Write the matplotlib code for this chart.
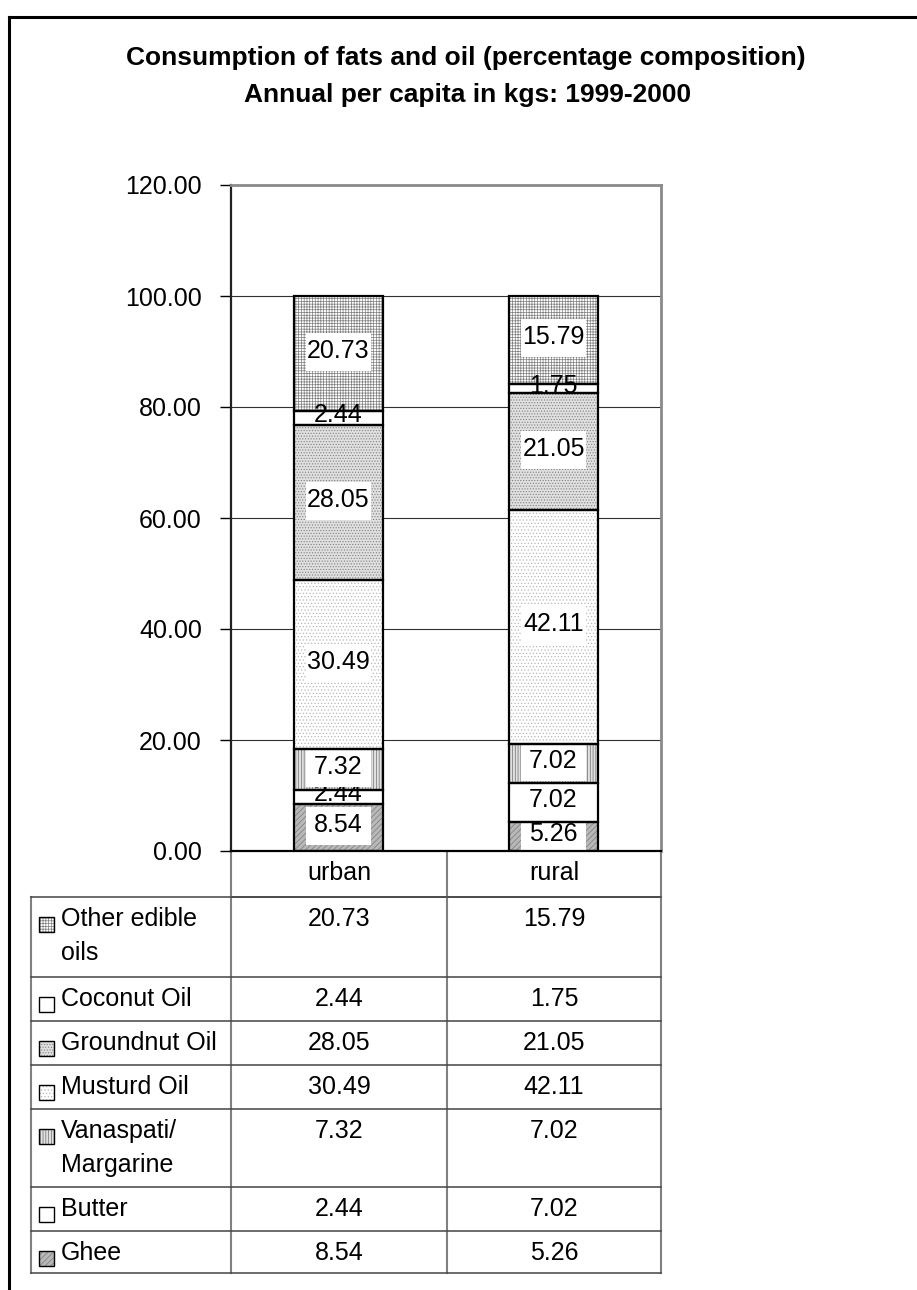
import numpy as np
import matplotlib.pyplot as plt
from matplotlib.patches import Rectangle

plt.rcParams['font.family'] = ['Liberation Sans', 'DejaVu Sans']
plt.rcParams['hatch.linewidth'] = 0.5

# stacked shares, bottom segment first
areas = ['urban', 'rural']
items = ['Ghee', 'Butter', 'Vanaspati/\nMargarine', 'Musturd Oil',
         'Groundnut Oil', 'Coconut Oil', 'Other edible\noils']
ghee = [8.54, 5.26]
butter = [2.44, 7.02]
vanaspati = [7.32, 7.02]
musturd = [30.49, 42.11]
groundnut = [28.05, 21.05]
coconut = [2.44, 1.75]
other = [20.73, 15.79]
series = [ghee, butter, vanaspati, musturd, groundnut, coconut, other]
yticks = [0, 20, 40, 60, 80, 100, 120]

# face colour, hatch, hatch colour for each segment
styles = [('#b8b8b8', '//////', '#7a7a7a'),
          ('white', None, 'white'),
          ('#e0e0e0', '||||||', '#6e6e6e'),
          ('white', '.....', '#b8b8b8'),
          ('#e0e0e0', '......', '#808080'),
          ('white', None, 'white'),
          ('white', '++++++', '#7e7e7e')]

FS = 18
W, H = 917, 1290
fig = plt.figure(figsize=(W / 100, H / 100), dpi=100)
ax = fig.add_axes([231 / W, 1 - 851 / H, 430 / W, 666 / H], zorder=2)

x = np.arange(len(areas))
bw = 0.41
box_w, box_h = 0.30, 6.8   # label box size in data units
bottom = np.zeros(len(areas))
for vals, (fc, h, hc) in zip(series, styles):
    vals = np.array(vals)
    ax.bar(x, vals, bottom=bottom, width=bw, color=fc, edgecolor=hc,
           linewidth=0, hatch=h, zorder=2)
    ax.bar(x, vals, bottom=bottom, width=bw, fill=False,
           edgecolor='black', linewidth=1.6, zorder=4)
    for xi, v, b in zip(x, vals, bottom):
        yc = b + v / 2
        # thin segments get bare text, the rest a white label box
        if v > 5:
            ax.add_patch(Rectangle((xi - box_w / 2, yc - box_h / 2 + 0.3),
                                   box_w, box_h, facecolor='white',
                                   edgecolor='none', zorder=3))
        ax.text(xi, yc + 0.5, '%.2f' % v, ha='center', va='center',
                fontsize=FS, zorder=3)
    bottom += vals

ax.set_xlim(-0.5, 1.5)
ax.set_ylim(0, 120)
ax.set_yticks(yticks)
ax.set_yticklabels(['%.2f' % t for t in yticks], fontsize=FS)
ax.tick_params(axis='y', length=8, width=1, pad=13, direction='out')
ax.set_xticks([])
ax.yaxis.grid(True, color='#303030', linewidth=0.8)
ax.set_axisbelow(True)
ax.spines['left'].set_color('#222222')
ax.spines['left'].set_linewidth(1.6)
ax.spines['bottom'].set_color('black')
ax.spines['bottom'].set_linewidth(1.6)
for s in ['top', 'right']:
    ax.spines[s].set_color('#8a8a8a')
    ax.spines[s].set_linewidth(2)

# overlay in pixel coordinates for title, data table and frame
ov = fig.add_axes([0, 0, 1, 1], zorder=1)
ov.set_xlim(0, W)
ov.set_ylim(H, 0)
ov.axis('off')

ov.text(466, 58, 'Consumption of fats and oil (percentage composition)',
        ha='center', va='center', fontsize=19, fontweight='bold')
ov.text(468, 95, 'Annual per capita in kgs: 1999-2000',
        ha='center', va='center', fontsize=19, fontweight='bold')

ov.plot([9, 9], [17, H], color='black', lw=2.2)
ov.plot([9, W], [17, 17], color='black', lw=2.2)

col_x = [31, 231, 447, 661]
row_y = [897, 977, 1021, 1065, 1109, 1187, 1231, 1273]
hline = dict(color='#444444', lw=1.1)
vline = dict(color='#808080', lw=1.5)

# header row with area names
for cx in col_x[1:]:
    ov.plot([cx, cx], [851, 897], **vline)
ov.plot([231, 661], [897, 897], **hline)
for i, a in enumerate(areas):
    ov.text((col_x[i + 1] + col_x[i + 2]) / 2, 873, a, ha='center',
            va='center', fontsize=FS)

# body rows, top row is the last series
for cx in col_x:
    ov.plot([cx, cx], [row_y[0], row_y[-1]], **vline)
for ry in row_y:
    ov.plot([31, 661], [ry, ry], **hline)

for r, k in enumerate(range(len(series) - 1, -1, -1)):
    top = row_y[r]
    fc, h, hc = styles[k]
    ov.add_patch(Rectangle((39, top + 20), 15, 15, facecolor=fc,
                           edgecolor=hc, hatch=h, lw=0))
    ov.add_patch(Rectangle((39, top + 20), 15, 15, fill=False,
                           edgecolor='black', lw=1))
    for j, line in enumerate(items[k].split('\n')):
        ov.text(61, top + 22 + 34 * j, line, ha='left', va='center',
                fontsize=FS)
    for i in range(len(areas)):
        ov.text((col_x[i + 1] + col_x[i + 2]) / 2, top + 22,
                '%.2f' % series[k][i], ha='center', va='center', fontsize=FS)

fig.savefig('out.png', dpi=100)
